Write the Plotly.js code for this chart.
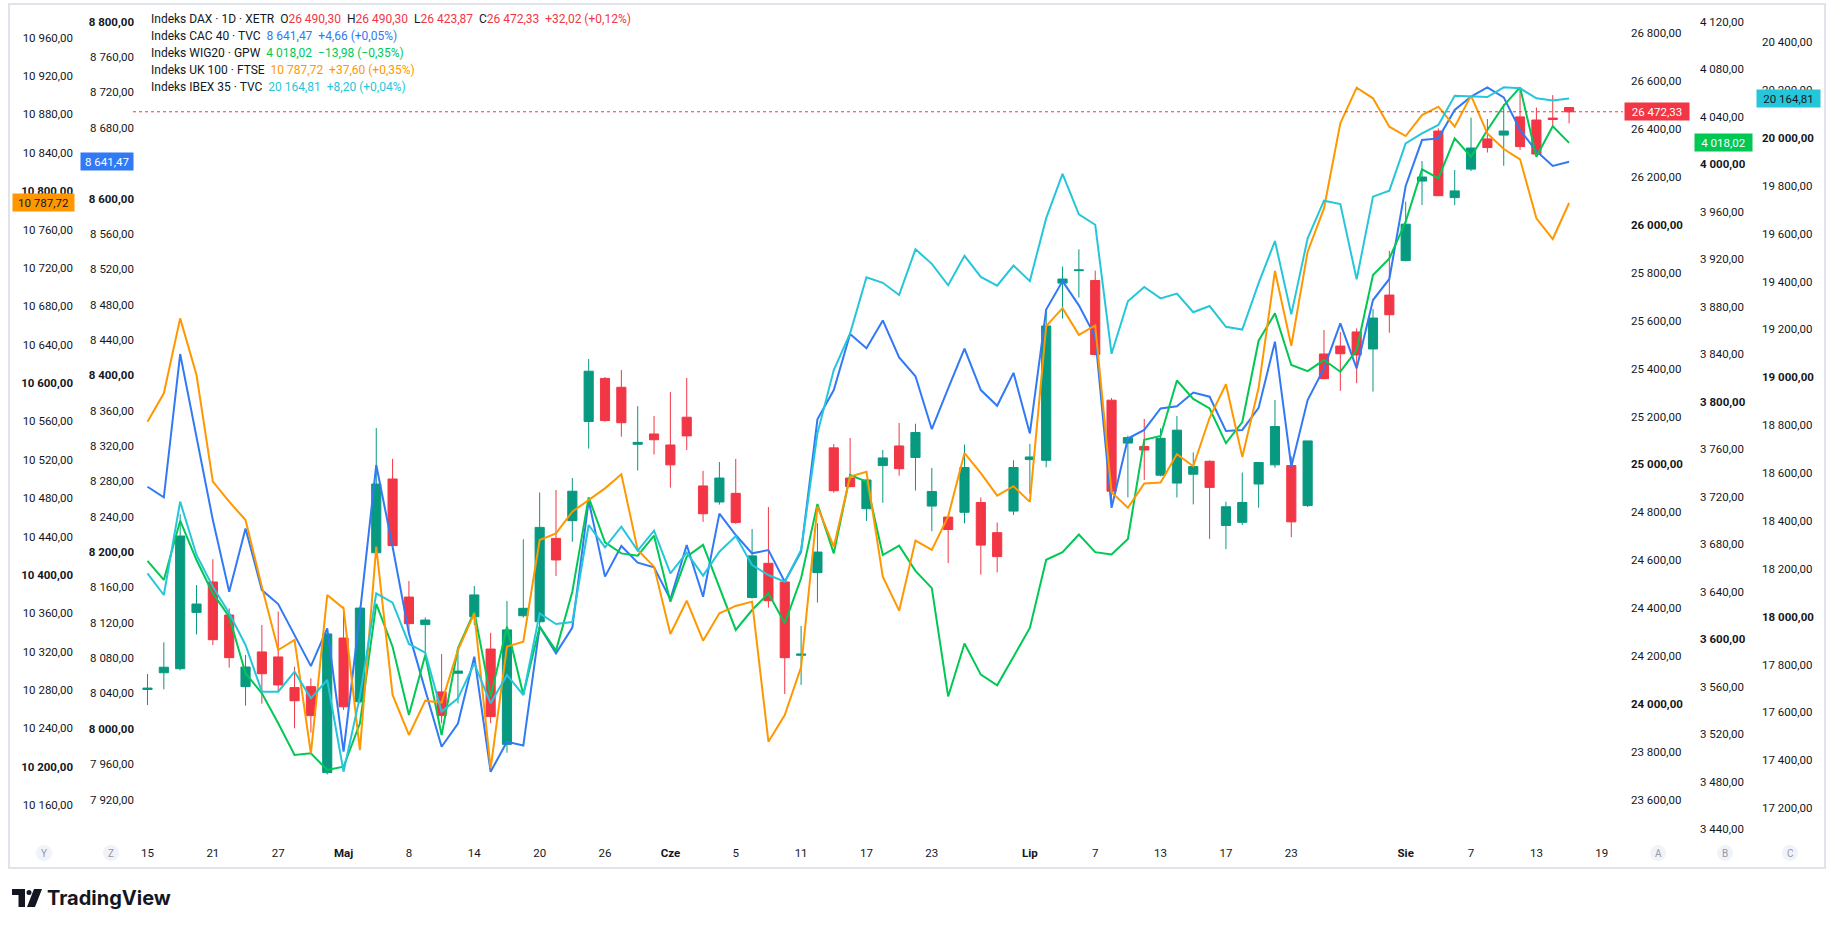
<!DOCTYPE html>
<html><head><meta charset="utf-8">
<script src="https://cdn.plot.ly/plotly-3.0.1.min.js"></script>
<style>html,body{margin:0;padding:0;background:#fff;}#chart{width:1835px;height:928px;}</style>
</head><body><div id="chart"></div>
<script>
// ---- data ----
const dates = ['2026-04-15','2026-04-16','2026-04-17','2026-04-20','2026-04-21','2026-04-22','2026-04-23','2026-04-24','2026-04-27','2026-04-28','2026-04-29','2026-04-30',
'2026-05-04','2026-05-05','2026-05-06','2026-05-07','2026-05-08','2026-05-11','2026-05-12','2026-05-13','2026-05-14','2026-05-15','2026-05-18','2026-05-19','2026-05-20','2026-05-21','2026-05-22','2026-05-25','2026-05-26','2026-05-27','2026-05-28','2026-05-29',
'2026-06-01','2026-06-02','2026-06-03','2026-06-04','2026-06-05','2026-06-08','2026-06-09','2026-06-10','2026-06-11','2026-06-12','2026-06-15','2026-06-16','2026-06-17','2026-06-18','2026-06-19','2026-06-22','2026-06-23','2026-06-24','2026-06-25','2026-06-26','2026-06-29','2026-06-30',
'2026-07-01','2026-07-02','2026-07-03','2026-07-06','2026-07-07','2026-07-08','2026-07-09','2026-07-10','2026-07-13','2026-07-14','2026-07-15','2026-07-16','2026-07-17','2026-07-20','2026-07-21','2026-07-22','2026-07-23','2026-07-24','2026-07-27','2026-07-28','2026-07-29','2026-07-30','2026-07-31',
'2026-08-03','2026-08-04','2026-08-05','2026-08-06','2026-08-07','2026-08-10','2026-08-11','2026-08-12','2026-08-13','2026-08-14','2026-08-17'];

const daxOpen = [24060,24130,24147,24382,24509,24371,24072,24217,24196,24068,24072,23713,24275,24009,24631,24939,24446,24331,24050,24128,24364,24229,23831,24368,
24343,24691,24765,25179,25359,25322,25084,25127,25081,25197,24910,24843,24879,24444,24587,24509,24203,24548,25069,24943,24815,24995,25077,
25029,24826,24780,24800,24841,24715,24805,25020,25017,25757,25809,25768,25268,25089,25075,24955,24922,24959,25013,24745,24758,
24918,24998,24995,24828,25461,25494,25553,25482,25707,25851,26183,26392,26114,26233,26359,26375,26451,26438,26446,26490.30];
const daxHigh = [24125,24257,24792,24496,24604,24399,24204,24329,24385,24155,24107,24300,24406,24406,25152,25023,24513,24361,24208,24232,24492,24297,24430,24687,
24883,24893,24943,25440,25365,25394,25243,25202,25302,25361,24973,25010,25023,24730,24822,24512,24325,24754,25085,25110,24937,25060,25173,
25170,24985,24782,25083,24862,24757,25017,25086,25647,25826,25898,25809,25277,25120,25190,25151,25202,25050,25017,24844,24966,
25010,25269,25033,25098,25561,25553,25568,25649,25892,26097,26267,26403,26229,26448,26442,26505,26574,26490,26542,26490.30];
const daxLow = [23995,24061,24140,24290,24246,24151,23993,24001,24051,23898,23880,23705,23975,24002,24625,24657,24295,24197,23919,24002,24329,23919,23796,24360,
24292,24534,24677,25066,25178,25116,24974,25041,24903,25060,24760,24832,24752,24440,24402,24041,24079,24423,24882,24905,24764,24840,24953,
24891,24721,24588,24754,24540,24549,24789,24877,24988,25609,25697,25455,24826,24862,24935,24950,24862,24833,24689,24646,24747,
24819,24986,24696,24822,25355,25307,25339,25304,25550,25848,26083,26120,26083,26225,26302,26247,26313,26285,26407,26423.87];
const daxClose = [24066,24153,24701,24417,24268,24193,24154,24126,24079,24013,23951,24292,23988,24400,24918,24661,24335,24350,23951,24137,24455,23947,24309,24399,
24737,24601,24888,25389,25183,25174,25092,25103,24998,25119,24794,24943,24757,24618,24431,24193,24208,24634,24890,24907,24935,25027,24982,
25133,24887,24728,24987,24663,24615,24987,25031,25578,25774,25812,25459,24888,25112,25060,25109,25143,24991,24904,24823,24841,
25008,25158,24760,25098,25358,25462,25457,25611,25625,26003,26200,26122,26142,26321,26323,26392,26327,26296,26440.31,26472.33];

const cac40 = [8273.8,8261.8,8424.0,8330.4,8236.1,8155.0,8226.7,8156.9,8141.1,8105.9,8070.9,8113.5,7974.0,8130.5,8298.4,8205.9,8107.9,8043.7,7979.6,8006.0,8081.5,7951.3,7985.3,7981.0,
8115.5,8085.3,8114.4,8258.1,8172.1,8206.8,8187.9,8182.6,8146.4,8207.9,8149.4,8243.4,8219.2,8198.5,8202.2,8166.4,8200.4,8350.1,8383.3,8446.7,8430.5,8462.0,8420.1,
8398.8,8338.9,8385.1,8430.1,8383.2,8365.5,8402.7,8334.2,8474.4,8506.5,8479.1,8443.8,8250.0,8328.4,8338.1,8362.4,8364.8,8380.4,8375.7,8337.0,8338.1,
8363.0,8437.9,8296.5,8371.9,8407.8,8458.7,8407.8,8485.1,8508.9,8614.1,8666.1,8668.0,8700.1,8715.2,8725.7,8714.4,8677.5,8653.7,8636.81,8641.47];
const wig20 = [3665.9,3649.9,3699.8,3666.7,3638.6,3619.0,3571.3,3554.4,3529.2,3502.5,3503.9,3489.9,3492.7,3529.2,3629.7,3593.7,3536.2,3586.7,3519.3,3592.3,3623.2,3551.6,3610.6,3553.3,
3610.6,3590.4,3640.0,3719.5,3681.6,3672.3,3670.4,3687.2,3631.6,3669.5,3679.4,3644.3,3607.8,3624.6,3638.6,3613.4,3651.3,3713.9,3672.3,3738.3,3732.7,3670.9,3678.8,
3657.6,3643.0,3551.8,3596.4,3570.2,3561.2,3585.3,3609.5,3666.9,3673.3,3688.2,3673.3,3671.3,3684.4,3768.0,3771.2,3817.9,3802.4,3794.3,3765.1,3782.9,
3851.4,3874.4,3830.9,3825.8,3835.1,3825.3,3843.5,3906.7,3920.7,3951.6,3995.7,3988.1,4021.8,4006.3,4028.8,4049.3,4064.7,4006.3,4032.00,4018.02];
const uk100 = [10559.7,10589.3,10667.4,10608.4,10497.2,10476.3,10457.2,10387.7,10321.7,10332.1,10214.0,10379.0,10365.1,10217.4,10429.4,10274.8,10233.1,10268.9,10266.8,10321.7,10359.9,10198.3,10325.2,10330.4,
10436.4,10443.3,10465.9,10478.1,10490.2,10504.8,10426.0,10408.6,10338.4,10373.1,10331.4,10359.9,10367.6,10372.1,10226.1,10253.9,10303.9,10471.1,10429.4,10502.4,10507.6,10398.2,10362.7,
10435.7,10426.0,10461.0,10527.0,10506.1,10482.6,10492.4,10476.1,10659.4,10678.1,10650.3,10660.1,10486.2,10470.0,10495.2,10496.3,10525.9,10513.3,10563.8,10598.8,10523.0,
10595.0,10716.8,10638.9,10736.9,10782.1,10870.7,10907.9,10896.8,10867.2,10857.5,10879.4,10888.1,10867.2,10899.6,10860.3,10844.0,10833.2,10771.7,10750.12,10787.72];
const ibex35 = [18180.9,18090.3,18480.4,18257.5,18125.1,18013.7,17881.4,17686.4,17686.4,17770.0,17658.5,17735.1,17352.0,17665.5,18097.3,18058.3,17885.6,17849.4,17602.8,17658.5,17804.8,17637.6,17756.0,17672.4,
18013.7,17969.1,17977.4,18382.8,18289.5,18375.8,18275.5,18359.1,18180.8,18267.2,18171.1,18271.4,18336.8,18215.6,18173.8,18146.0,18278.3,18765.9,19030.5,19183.8,19418.0,19395.0,19344.2,
19535.0,19474.3,19384.6,19507.5,19419.3,19383.2,19467.1,19402.0,19665.2,19850.3,19681.1,19637.7,19098.3,19318.1,19377.4,19329.7,19349.9,19271.9,19297.9,19211.1,19199.6,
19393.7,19569.6,19263.1,19580.7,19738.1,19724.2,19409.4,19754.9,19779.9,19977.7,20019.5,20054.4,20176.9,20174.1,20171.4,20211.8,20207.6,20165.8,20156.61,20164.81];

// x-axis ticks (session index) and labels
const tickIdx = [0,4,8,12,16,20,24,28,32,36,40,44,48,54,58,62,66,70,77,81,85,89];
const tickLabels = ['15','21','27','Maj','8','14','20','26','Cze','5','11','17','23','Lip','7','13','17','23','Sie','7','13','19'];
const monthLabels = ['Maj','Cze','Lip','Sie'];

// y-axis tick values (8 640 is hidden under the CAC price label in the reference)
const daxTicks = [23600,23800,24000,24200,24400,24600,24800,25000,25200,25400,25600,25800,26000,26200,26400,26600,26800];
const cacTicks = [7920,7960,8000,8040,8080,8120,8160,8200,8240,8280,8320,8360,8400,8440,8480,8520,8560,8600,8680,8720,8760,8800];
const wigTicks = [3440,3480,3520,3560,3600,3640,3680,3720,3760,3800,3840,3880,3920,3960,4000,4040,4080,4120];
const ukTicks = [10160,10200,10240,10280,10320,10360,10400,10440,10480,10520,10560,10600,10640,10680,10720,10760,10800,10840,10880,10920,10960];
const ibexTicks = [17200,17400,17600,17800,18000,18200,18400,18600,18800,19000,19200,19400,19600,19800,20000,20200,20400];

// ---- styling ----
const W = 1835, H = 928;
const px = v => v / W;
const py = v => 1 - v / H;
const C = {dax:'#f23645', up:'#089981', cac:'#3179f5', wig:'#00c853', uk:'#ff9800', ibex:'#26c6da', txt:'#131722'};
const NB = '\u00a0';
const TF = 11.5;

function fmt(v) {
  const s = Math.abs(v).toFixed(2);
  let [a, b] = s.split('.');
  a = a.replace(/\B(?=(\d{3})+(?!\d))/g, NB);
  return a + ',' + b;
}
function sgn(v) { return (v < 0 ? '\u2212' : '+') + fmt(v); }
function tickText(arr, major) { return arr.map(v => v % major === 0 ? '<b>' + fmt(v) + '</b>' : fmt(v)); }

const x = dates.map((d, i) => i);
const n = dates.length;

const traces = [
  {type:'candlestick', x:x, open:daxOpen, high:daxHigh, low:daxLow, close:daxClose, xaxis:'x', yaxis:'y',
   increasing:{line:{color:C.up, width:1}, fillcolor:C.up},
   decreasing:{line:{color:C.dax, width:1}, fillcolor:C.dax},
   whiskerwidth:0, hoverinfo:'skip'},
  {type:'scatter', mode:'lines', x:x, y:cac40, yaxis:'y2', line:{color:C.cac, width:2}, hoverinfo:'skip'},
  {type:'scatter', mode:'lines', x:x, y:wig20, yaxis:'y3', line:{color:C.wig, width:2}, hoverinfo:'skip'},
  {type:'scatter', mode:'lines', x:x, y:uk100, yaxis:'y4', line:{color:C.uk, width:2}, hoverinfo:'skip'},
  {type:'scatter', mode:'lines', x:x, y:ibex35, yaxis:'y5', line:{color:C.ibex, width:2}, hoverinfo:'skip'}
];

const yBase = {showgrid:false, zeroline:false, showline:false, ticks:'', fixedrange:true,
  tickfont:{size:TF, color:C.txt}, domain:[py(838), py(5)], anchor:'free'};

const layout = {
  width:W, height:H, margin:{l:0, r:0, t:0, b:0},
  paper_bgcolor:'#ffffff', plot_bgcolor:'#ffffff',
  separators:', ', showlegend:false, boxgap:0.2, hovermode:false,
  font:{family:'Roboto, "Open Sans", sans-serif', size:TF, color:C.txt},
  xaxis:{domain:[px(133), px(1623)], range:[-0.887, 90.30], showgrid:false, zeroline:false, showline:false,
    ticks:'', fixedrange:true, rangeslider:{visible:false},
    tickvals:tickIdx, ticktext:tickLabels.map(t => monthLabels.includes(t) ? '<b>' + t + '</b>' : t),
    tickfont:{size:TF, color:C.txt}, ticklabelstandoff:6},
  yaxis:Object.assign({}, yBase, {side:'right', position:px(1630), range:[23440.0, 26918.2],
    tickvals:daxTicks, ticktext:tickText(daxTicks, 1000)}),
  yaxis2:Object.assign({}, yBase, {side:'left', overlaying:'y', position:px(134), range:[7876.4, 8818.9],
    tickvals:cacTicks, ticktext:tickText(cacTicks, 200)}),
  yaxis3:Object.assign({}, yBase, {side:'right', overlaying:'y', position:px(1699), range:[3432.6, 4134.1],
    tickvals:wigTicks, ticktext:tickText(wigTicks, 200)}),
  yaxis4:Object.assign({}, yBase, {side:'left', overlaying:'y', position:px(73), range:[10125.7, 10994.1],
    tickvals:ukTicks, ticktext:tickText(ukTicks, 200)}),
  yaxis5:Object.assign({}, yBase, {side:'right', overlaying:'y', position:px(1761), range:[17074.8, 20555.9],
    tickvals:ibexTicks, ticktext:tickText(ibexTicks, 1000)}),
  shapes:[],
  annotations:[]
};

// frame
layout.shapes.push({type:'rect', xref:'paper', yref:'paper', x0:px(9), x1:px(1825), y0:py(868), y1:py(4),
  line:{color:'#e0e3eb', width:2}, fillcolor:'rgba(0,0,0,0)', layer:'below'});
// last price dotted line
layout.shapes.push({type:'line', xref:'paper', yref:'y', x0:px(133), x1:px(1623), y0:daxClose[n-1], y1:daxClose[n-1],
  line:{color:C.dax, width:1, dash:'dot'}});

// price labels on the axes
function priceLabel(yref, val, left, w, bg, fg) {
  layout.annotations.push({xref:'paper', yref:yref, x:px(left), xanchor:'left', y:val, yanchor:'middle',
    text:fmt(val), showarrow:false, bgcolor:bg, font:{color:fg, size:TF}, width:w, height:13, borderpad:2, align:'center'});
}
priceLabel('y', daxClose[n-1], 1624, 60, C.dax, '#ffffff');
priceLabel('y3', wig20[n-1], 1694, 53, C.wig, '#ffffff');
priceLabel('y5', ibex35[n-1], 1756, 59, C.ibex, '#131722');
priceLabel('y2', cac40[n-1], 80, 48, C.cac, '#ffffff');
priceLabel('y4', uk100[n-1], 12, 57, C.uk, '#131722');

// legend (top-left)
function chg(arr) { const d = arr[n-1] - arr[n-2]; return sgn(d) + NB + '(' + sgn(d / arr[n-2] * 100) + '%)'; }
function col(t, c) { return '<span style="color:' + c + '">' + t + '</span>'; }
const G = NB + NB;
const legendLines = [
  'Indeks DAX · 1D · XETR' + G + 'O' + col(fmt(daxOpen[n-1]), C.dax) + G + 'H' + col(fmt(daxHigh[n-1]), C.dax) + G +
    'L' + col(fmt(daxLow[n-1]), C.dax) + G + 'C' + col(fmt(daxClose[n-1]), C.dax) + G + col(chg(daxClose), C.dax),
  'Indeks CAC 40 · TVC' + G + col(fmt(cac40[n-1]) + G + chg(cac40), C.cac),
  'Indeks WIG20 · GPW' + G + col(fmt(wig20[n-1]) + G + chg(wig20), C.wig),
  'Indeks UK 100 · FTSE' + G + col(fmt(uk100[n-1]) + G + chg(uk100), C.uk),
  'Indeks IBEX 35 · TVC' + G + col(fmt(ibex35[n-1]) + G + chg(ibex35), C.ibex)
];
const legendY = [19, 36, 53, 70, 87];
legendLines.forEach((t, i) => layout.annotations.push({xref:'paper', yref:'paper', x:px(149), xanchor:'left',
  y:py(legendY[i]), yanchor:'middle', text:t, showarrow:false, font:{size:12, color:C.txt}}));

// scale buttons
[['Y',44],['Z',111],['A',1658],['B',1725],['C',1790]].forEach(([t, cx]) => {
  layout.shapes.push({type:'circle', xref:'paper', yref:'paper', x0:px(cx-8), x1:px(cx+8), y0:py(861), y1:py(845),
    fillcolor:'#f0f3fa', line:{width:0}});
  layout.annotations.push({xref:'paper', yref:'paper', x:px(cx), y:py(853), xanchor:'center', yanchor:'middle',
    text:t, showarrow:false, font:{size:10, color:'#9598a1'}});
});

// TradingView logo
layout.shapes.push({type:'rect', xref:'paper', yref:'paper', x0:px(12), x1:px(25), y0:py(895), y1:py(889), fillcolor:'#131722', line:{width:0}});
layout.shapes.push({type:'rect', xref:'paper', yref:'paper', x0:px(18.5), x1:px(25), y0:py(907), y1:py(889), fillcolor:'#131722', line:{width:0}});
layout.shapes.push({type:'circle', xref:'paper', yref:'paper', x0:px(26.5), x1:px(31.5), y0:py(895), y1:py(890), fillcolor:'#131722', line:{width:0}});
layout.shapes.push({type:'path', xref:'paper', yref:'paper',
  path:'M ' + px(34) + ',' + py(889) + ' L ' + px(42) + ',' + py(889) + ' L ' + px(35) + ',' + py(907) + ' L ' + px(27) + ',' + py(907) + ' Z',
  fillcolor:'#131722', line:{width:0}});
layout.annotations.push({xref:'paper', yref:'paper', x:px(45), y:py(898), xanchor:'left', yanchor:'middle',
  text:'<b>TradingView</b>', showarrow:false, font:{size:20, color:'#131722', family:'Inter, Roboto, sans-serif'}});

Plotly.newPlot('chart', traces, layout, {staticPlot:true, displayModeBar:false});
</script></body></html>
